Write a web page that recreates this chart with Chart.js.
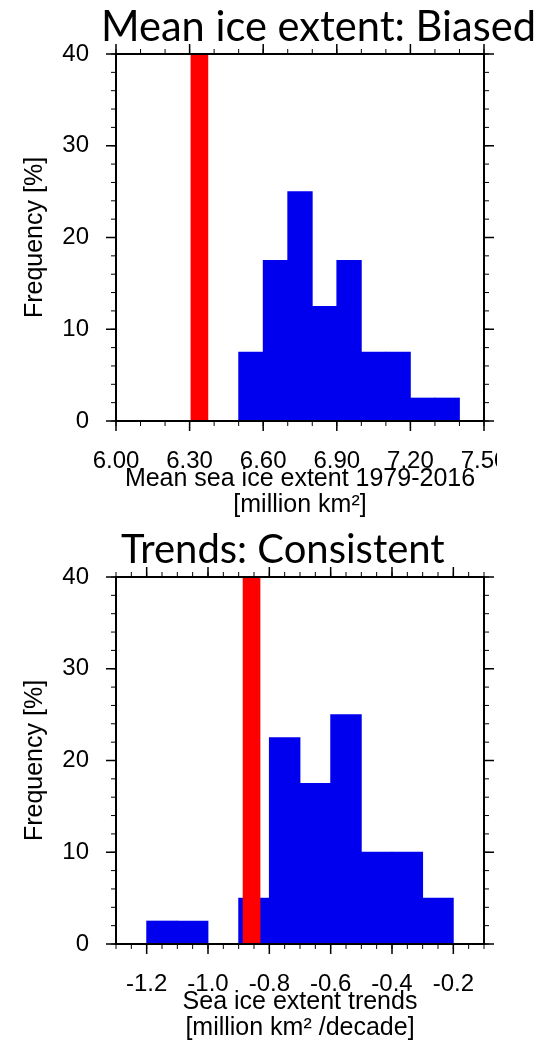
<!DOCTYPE html>
<html>
<head>
<meta charset="utf-8">
<script src="https://cdn.jsdelivr.net/npm/chart.js@4.4.1/dist/chart.umd.min.js"></script>
<style>
  html, body { margin: 0; padding: 0; background: #fff; }
  #page { position: relative; width: 558px; height: 1044px; overflow: hidden; }
  .panel { position: absolute; left: 0; width: 558px; height: 522px; }
  .title { position: absolute; font-family: Lato, "Open Sans", sans-serif; line-height: 1; color: #000; white-space: nowrap; }
</style>
</head>
<body>
<div id="page">
  <div class="panel" style="top:0"><canvas id="meanChart" width="558" height="522"></canvas></div>
  <div class="panel" style="top:522px"><canvas id="trendChart" width="558" height="522"></canvas></div>
  <div class="title" style="left:101px; top:5px; font-size:41.6px">Mean ice extent: Biased</div>
  <div class="title" style="left:121px; top:528px; font-size:40px">Trends: Consistent</div>
</div>

<script>
// ---- mean extent histogram (40 members, 2.5 % each) ----
const meanBins = [6.55, 6.65, 6.75, 6.85, 6.95, 7.05, 7.15, 7.25, 7.35];
const meanFreq = [7.5, 17.5, 25, 12.5, 17.5, 7.5, 7.5, 2.5, 2.5];
const meanObs = 6.34;
const meanTicks = [6.0, 6.3, 6.6, 6.9, 7.2, 7.5];
const meanTickLabels = ['6.00', '6.30', '6.60', '6.90', '7.20', '7.50'];

// ---- trend histogram ----
const trendBins = [-1.15, -1.05, -0.95, -0.85, -0.75, -0.65, -0.55, -0.45, -0.35, -0.25];
const trendFreq = [2.5, 2.5, 0, 5, 22.5, 17.5, 25, 10, 10, 5];
const trendObs = -0.858;
const trendTicks = [-1.2, -1.0, -0.8, -0.6, -0.4, -0.2];
const trendTickLabels = ['-1.2', '-1.0', '-0.8', '-0.6', '-0.4', '-0.2'];

// shared frequency axis
const freqTicks = [0, 10, 20, 30, 40];
const freqTickLabels = ['0', '10', '20', '30', '40'];

const BLUE = '#0000ee';
const RED = '#ff0000';
const FONT = '"Liberation Sans", Arial, sans-serif';

// NCL-like frame: outward ticks on all four sides, labels left/bottom
const frameAxes = {
  id: 'frameAxes',
  afterDatasetsDraw(chart, args, o) {
    const { ctx, chartArea: a } = chart;
    const x = chart.scales.x, y = chart.scales.y;
    ctx.save();
    ctx.beginPath();
    ctx.rect(0, 0, o.clipRight || chart.width, chart.height);
    ctx.clip();
    ctx.strokeStyle = '#000';
    ctx.fillStyle = '#000';

    const tick = (len, width, xs, ys) => {
      ctx.lineWidth = width;
      ctx.beginPath();
      xs.forEach(v => {
        const px = x.getPixelForValue(v);
        ctx.moveTo(px, a.bottom); ctx.lineTo(px, a.bottom + len);
        ctx.moveTo(px, a.top); ctx.lineTo(px, a.top - len);
      });
      ys.forEach(v => {
        const py = y.getPixelForValue(v);
        ctx.moveTo(a.left, py); ctx.lineTo(a.left - len, py);
        ctx.moveTo(a.right, py); ctx.lineTo(a.right + len, py);
      });
      ctx.stroke();
    };
    const steps = (min, max, step) => {
      const out = [];
      for (let v = min; v <= max + step / 2; v += step) out.push(+v.toFixed(4));
      return out;
    };
    tick(5, 1, steps(x.min, x.max, o.xMinorStep), steps(y.min, y.max, o.yMinorStep));
    tick(10, 1.5, o.xTicks, o.yTicks);

    ctx.lineWidth = 2;
    ctx.strokeRect(a.left, a.top, a.right - a.left, a.bottom - a.top);

    // tick labels
    ctx.font = '24px ' + FONT;
    ctx.textAlign = 'center';
    ctx.textBaseline = 'middle';
    o.xTicks.forEach((v, i) => ctx.fillText(o.xLabels[i], x.getPixelForValue(v), a.bottom + 40));
    ctx.textAlign = 'right';
    o.yTicks.forEach((v, i) => ctx.fillText(o.yLabels[i], a.left - 27, y.getPixelForValue(v)));

    // axis titles
    ctx.font = '25px ' + FONT;
    ctx.textAlign = 'center';
    const cx = (a.left + a.right) / 2;
    o.xTitle.forEach((line, i) => ctx.fillText(line, cx, a.bottom + 58 + i * 26));
    ctx.translate(35, (a.top + a.bottom) / 2);
    ctx.rotate(-Math.PI / 2);
    ctx.fillText(o.yTitle, 0, 0);
    ctx.restore();
  }
};

function histChart(id, bins, freq, obs, xMin, xMax, pad, axes) {
  return new Chart(document.getElementById(id), {
    type: 'bar',
    data: {
      datasets: [
        {
          // observed value, drawn on top
          xAxisID: 'xObs',
          data: [{ x: obs, y: 40 }],
          backgroundColor: RED,
          barThickness: 17,
          grouped: false
        },
        {
          xAxisID: 'x',
          data: bins.map((b, i) => ({ x: b, y: freq[i] })),
          backgroundColor: BLUE,
          barPercentage: 1,
          categoryPercentage: 1,
          inflateAmount: 0.4,
          grouped: false
        }
      ]
    },
    options: {
      responsive: false,
      animation: false,
      layout: { padding: pad },
      plugins: {
        legend: { display: false },
        tooltip: { enabled: false },
        frameAxes: axes
      },
      scales: {
        x: { type: 'linear', min: xMin, max: xMax, offset: false, display: false, ticks: { stepSize: 0.1 } },
        xObs: { type: 'linear', min: xMin, max: xMax, offset: false, display: false },
        y: { min: 0, max: 40, display: false }
      }
    },
    plugins: [frameAxes]
  });
}

histChart('meanChart', meanBins, meanFreq, meanObs, 6.0, 7.5,
  { left: 116, right: 74, top: 54, bottom: 101 },
  {
    clipRight: 497,
    xTicks: meanTicks, xLabels: meanTickLabels, xMinorStep: 0.1,
    yTicks: freqTicks, yLabels: freqTickLabels, yMinorStep: 2,
    xTitle: ['Mean sea ice extent 1979-2016', '[million km\u00b2]'],
    yTitle: 'Frequency [%]'
  });

histChart('trendChart', trendBins, trendFreq, trendObs, -1.3, -0.1,
  { left: 116, right: 74, top: 55, bottom: 100 },
  {
    xTicks: trendTicks, xLabels: trendTickLabels, xMinorStep: 0.05,
    yTicks: freqTicks, yLabels: freqTickLabels, yMinorStep: 2,
    xTitle: ['Sea ice extent trends', '[million km\u00b2 /decade]'],
    yTitle: 'Frequency [%]'
  });
</script>
</body>
</html>
